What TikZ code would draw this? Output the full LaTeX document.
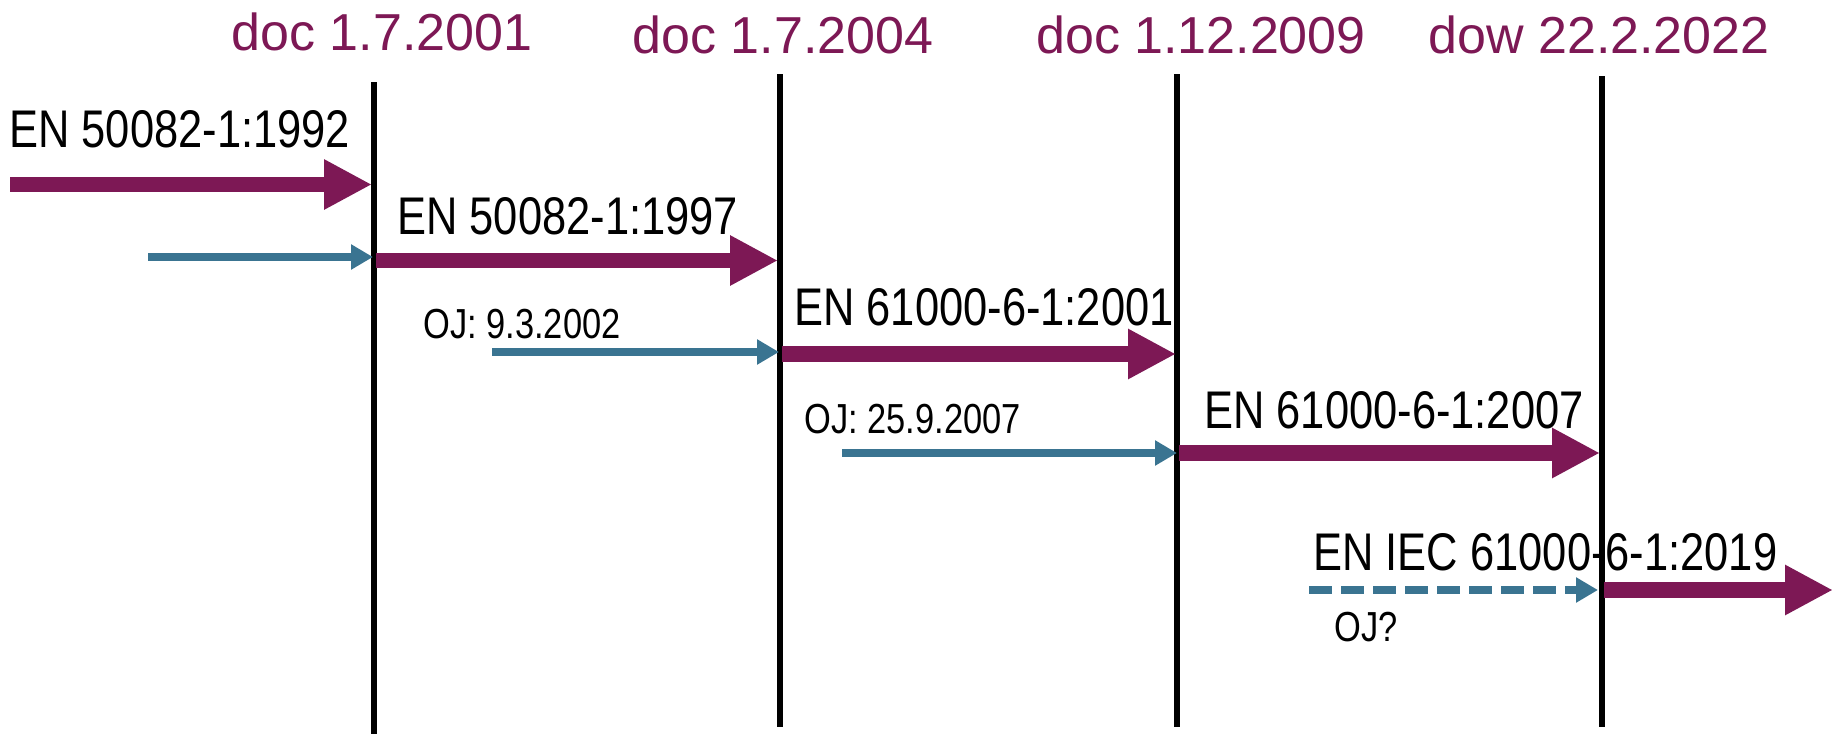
\documentclass[tikz,border=0pt]{standalone}
\usepackage{fontspec}
\setmainfont{Liberation Sans}
\newfontfamily\narrowfont[FakeStretch=0.82]{Liberation Sans}
\usetikzlibrary{arrows.meta}
\definecolor{plum}{RGB}{125,24,85}
\definecolor{teal}{RGB}{58,116,145}
\tikzset{
  timeline/.style={draw=black, line width=3.2pt},
  datelabel/.style={text=plum, inner sep=0pt, anchor=base, font=\fontsize{26pt}{30pt}\selectfont},
  stdlabel/.style={text=black, inner sep=0pt, anchor=base west, font=\narrowfont\fontsize{26.5pt}{30pt}\selectfont},
  ojlabel/.style={text=black, inner sep=0pt, anchor=base west, font=\narrowfont\fontsize{21pt}{25pt}\selectfont},
  validity/.style={draw=plum, line width=7.8pt, -{Triangle[length=24pt,width=23.5pt]}},
  publication/.style={draw=teal, line width=4pt, -{Triangle[length=11pt,width=12pt]}},
}
\begin{document}
\begin{tikzpicture}[x=0.5pt, y=-0.5pt]
\useasboundingbox (0,0) rectangle (1833,734);
% date labels
\node[datelabel] (d1) at (382,50) {doc 1.7.2001};
\node[datelabel] (d2) at (783,53) {doc 1.7.2004};
\node[datelabel] (d3) at (1201,53) {doc 1.12.2009};
\node[datelabel] (d4) at (1599,53) {dow 22.2.2022};
% timelines
\coordinate (l1t) at (374,82);  \coordinate (l1b) at (374,734);
\coordinate (l2t) at (780,74);  \coordinate (l2b) at (780,727);
\coordinate (l3t) at (1177,74); \coordinate (l3b) at (1177,727);
\coordinate (l4t) at (1602,76); \coordinate (l4b) at (1602,727);
\draw[timeline] (l1t) -- (l1b);
\draw[timeline] (l2t) -- (l2b);
\draw[timeline] (l3t) -- (l3b);
\draw[timeline] (l4t) -- (l4b);
% standard labels
\node[stdlabel] (e1) at (9,147) {EN 50082-1:1992};
\node[stdlabel] (e2) at (397,234) {EN 50082-1:1997};
\node[stdlabel] (e3) at (794,325) {EN 61000-6-1:2001};
\node[stdlabel] (e4) at (1204,428) {EN 61000-6-1:2007};
\node[stdlabel] (e5) at (1313,570) {EN IEC 61000-6-1:2019};
\node[ojlabel] (o1) at (423,338) {OJ: 9.3.2002};
\node[ojlabel] (o2) at (804,433) {OJ: 25.9.2007};
\node[ojlabel] (o3) at (1334,641) {OJ?};
% validity arrows
\coordinate (p1s) at (10,184.5);  \coordinate (p1e) at (372,184.5);
\coordinate (p2s) at (376,260.5); \coordinate (p2e) at (778,260.5);
\coordinate (p3s) at (782,354);   \coordinate (p3e) at (1176,354);
\coordinate (p4s) at (1179,453);  \coordinate (p4e) at (1600,453);
\coordinate (p5s) at (1604,590);  \coordinate (p5e) at (1833,590);
\draw[validity] (p1s) -- (p1e);
\draw[validity] (p2s) -- (p2e);
\draw[validity] (p3s) -- (p3e);
\draw[validity] (p4s) -- (p4e);
\draw[validity] (p5s) -- (p5e);
% publication arrows
\coordinate (b1s) at (148,257);  \coordinate (b1e) at (373,257);
\coordinate (b2s) at (492,352);  \coordinate (b2e) at (779,352);
\coordinate (b3s) at (842,453);  \coordinate (b3e) at (1177,453);
\coordinate (b4s) at (1309,590); \coordinate (b4e) at (1598,590);
\draw[publication] (b1s) -- (b1e);
\draw[publication] (b2s) -- (b2e);
\draw[publication] (b3s) -- (b3e);
\draw[publication, dash pattern=on 11.5pt off 4.5pt] (b4s) -- (b4e);
\end{tikzpicture}
\end{document}
